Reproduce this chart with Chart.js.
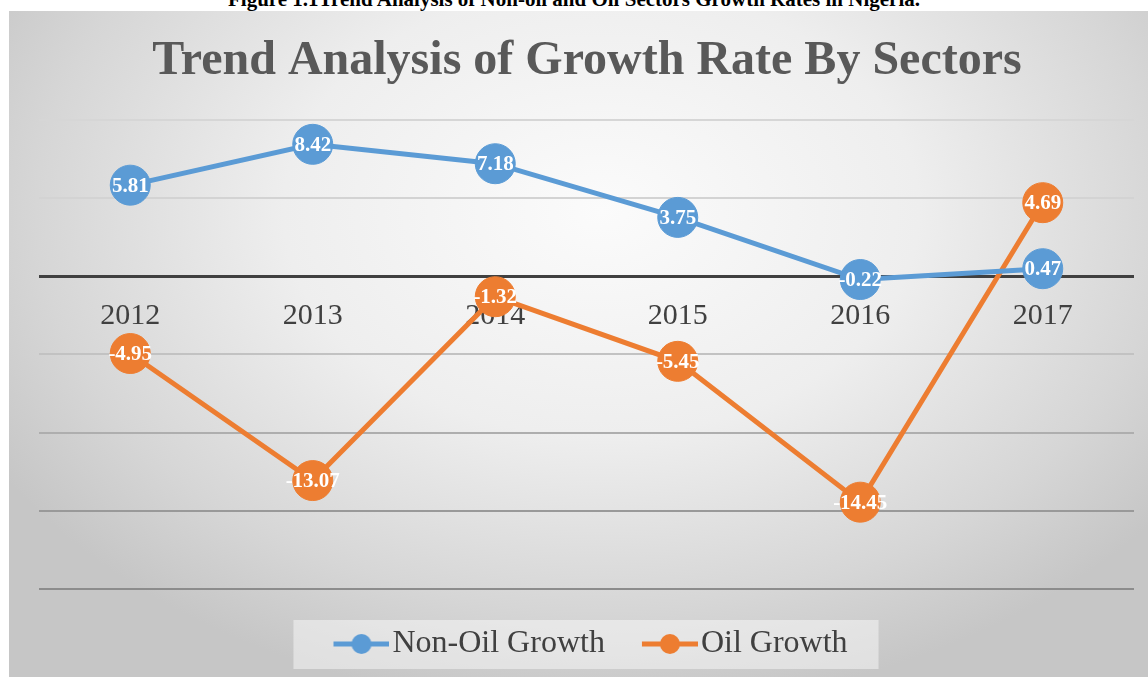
<!DOCTYPE html>
<html>
<head>
<meta charset="utf-8">
<script src="https://cdn.jsdelivr.net/npm/chart.js@4/dist/chart.umd.min.js"></script>
<style>
  html, body { margin: 0; padding: 0; background: #ffffff; }
  body { width: 1148px; height: 677px; position: relative; overflow: hidden; }
  #caption {
    position: absolute; left: 0; top: -11px; width: 1148px;
    text-align: center; font: bold 21px "Liberation Serif", serif; line-height: 20px; color: #000;
  }
  #frame {
    position: absolute; left: 9px; top: 11px; right: 0; bottom: 0;
    background: radial-gradient(ellipse 62% 75% at 52% 30%, #fbfbfb 0%, #eeeeee 45%, #d6d6d6 80%, #c6c6c6 100%);
  }
  #chart { position: absolute; left: 0; top: 0; }
</style>
</head>
<body>
<div id="caption">Figure 1.1Trend Analysis of Non-oil and Oil Sectors Growth Rates in Nigeria.</div>
<div id="frame"></div>
<canvas id="chart" width="1148" height="677"></canvas>
<script>
// données
const years = ["2012", "2013", "2014", "2015", "2016", "2017"];
const nonOilGrowth = [5.81, 8.42, 7.18, 3.75, -0.22, 0.47];
const oilGrowth = [-4.95, -13.07, -1.32, -5.45, -14.45, 4.69];
const seriesNames = ["Non-Oil Growth", "Oil Growth"];
const seriesColors = ["#5b9bd5", "#ed7d31"];

const serif = "'Liberation Serif', 'Times New Roman', serif";

// couleur des lignes de grille selon la valeur (plus sombre vers le bas)
const gridColors = { "10": "#d6d6d6", "5": "#d3d3d3", "0": "#404040", "-5": "#c2c2c2", "-10": "#aeaeae", "-15": "#999999", "-20": "#8c8c8c" };

/**
 * Icône de légende: trait + rond, avec une marge transparente à gauche
 */
function legendIcon(color) {
  const c = document.createElement("canvas");
  c.width = 96;
  c.height = 22;
  const g = c.getContext("2d");
  g.strokeStyle = color;
  g.lineWidth = 5;
  g.beginPath();
  g.moveTo(40, 11);
  g.lineTo(96, 11);
  g.stroke();
  g.fillStyle = color;
  g.beginPath();
  g.arc(68, 11, 10, 0, Math.PI * 2);
  g.fill();
  return c;
}
const legendIcons = seriesColors.map(legendIcon);

// le titre et la légende sont un peu décalés vers la droite dans l'original
const shiftBlocks = {
  id: "shiftBlocks",
  afterLayout(chart) {
    if (chart.titleBlock) chart.titleBlock.left += 40;
    if (chart.legend) chart.legend.left += 20;
  }
};

// fond clair derrière la légende
const legendBackground = {
  id: "legendBackground",
  beforeDraw(chart) {
    const boxes = chart.legend && chart.legend.legendHitBoxes;
    if (!boxes || !boxes.length) return;
    const first = boxes[0];
    const last = boxes[boxes.length - 1];
    const ctx = chart.ctx;
    ctx.save();
    ctx.fillStyle = "rgba(255,255,255,0.45)";
    ctx.fillRect(first.left - 13, first.top - 8, last.left + last.width + 31 - (first.left - 13), 49);
    ctx.restore();
  }
};

// étiquettes blanches au centre des points
const pointLabels = {
  id: "pointLabels",
  afterDatasetsDraw(chart) {
    const ctx = chart.ctx;
    ctx.save();
    ctx.font = "bold 21px " + serif;
    ctx.fillStyle = "#ffffff";
    ctx.textAlign = "center";
    ctx.textBaseline = "middle";
    chart.data.datasets.forEach((ds, i) => {
      chart.getDatasetMeta(i).data.forEach((pt, j) => {
        ctx.fillText(ds.data[j].toFixed(2), pt.x, pt.y + 1);
      });
    });
    ctx.restore();
  }
};

const ctx = document.getElementById("chart").getContext("2d");

new Chart(ctx, {
  type: "line",
  data: {
    labels: years,
    datasets: [
      {
        label: seriesNames[0],
        data: nonOilGrowth,
        borderColor: seriesColors[0],
        backgroundColor: seriesColors[0],
        borderWidth: 5,
        pointRadius: 20,
        pointBorderWidth: 1,
        pointBorderColor: seriesColors[0],
        clip: false
      },
      {
        label: seriesNames[1],
        data: oilGrowth,
        borderColor: seriesColors[1],
        backgroundColor: seriesColors[1],
        borderWidth: 5,
        pointRadius: 20,
        pointBorderWidth: 1,
        pointBorderColor: seriesColors[1],
        clip: false
      }
    ]
  },
  options: {
    responsive: false,
    animation: false,
    layout: { autoPadding: false, padding: { top: 0, right: 14, bottom: 7, left: 0 } },
    scales: {
      x: {
        type: "category",
        position: { y: 0 },
        offset: true,
        z: 1,
        grid: { display: false, drawTicks: false },
        border: { display: false },
        ticks: {
          color: "#404040",
          font: { family: serif, size: 30 },
          padding: 22,
          maxRotation: 0
        }
      },
      y: {
        min: -20,
        max: 10,
        ticks: { display: false, stepSize: 5 },
        border: { display: false },
        grid: {
          drawTicks: false,
          color: (c) => gridColors[String(c.tick.value)] || "#cccccc",
          lineWidth: (c) => (c.tick.value === 0 ? 3 : 2)
        },
        afterFit(scale) { scale.width = 39; }
      }
    },
    plugins: {
      title: {
        display: true,
        text: "Trend Analysis of Growth Rate By Sectors",
        color: "#595959",
        font: { family: serif, size: 48, weight: "bold" },
        padding: { top: 33, bottom: 29 }
      },
      legend: {
        position: "bottom",
        title: { display: true, text: " ", font: { size: 10 }, padding: { top: 0, bottom: 17 } },
        labels: {
          usePointStyle: true,
          pointStyleWidth: 70,
          padding: 10,
          color: "#404040",
          font: { family: serif, size: 32 },
          generateLabels(chart) {
            const items = Chart.defaults.plugins.legend.labels.generateLabels(chart);
            return items.map((it, i) => Object.assign(it, { pointStyle: legendIcons[i] }));
          }
        }
      },
      tooltip: { enabled: false }
    }
  },
  plugins: [shiftBlocks, legendBackground, pointLabels]
});
</script>
</body>
</html>
